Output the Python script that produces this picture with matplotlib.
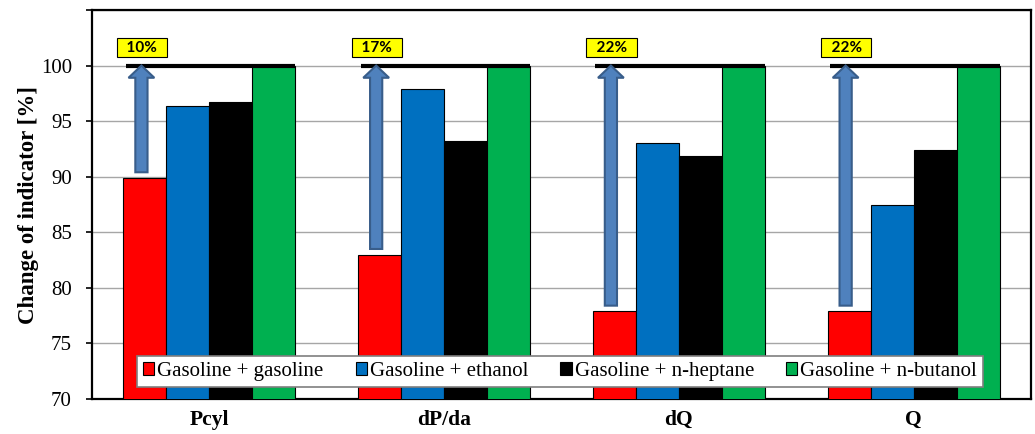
import matplotlib
matplotlib.use('Agg')
import matplotlib.pyplot as plt
import matplotlib.patches as mpatches
import numpy as np

# Relative indicator values [%] for each fuel pair
indicators = ['Pcyl', 'dP/da', 'dQ', 'Q']
series_names = ['Gasoline + gasoline', 'Gasoline + ethanol',
                'Gasoline + n-heptane', 'Gasoline + n-butanol']
gasoline_gasoline = [89.9, 83.0, 77.9, 77.9]
gasoline_ethanol = [96.4, 97.9, 93.0, 87.5]
gasoline_heptane = [96.7, 93.2, 91.9, 92.4]
gasoline_butanol = [100.0, 100.0, 100.0, 100.0]
y_ticks = [70, 75, 80, 85, 90, 95, 100]

series = [gasoline_gasoline, gasoline_ethanol, gasoline_heptane, gasoline_butanol]
colors = ['#FF0000', '#0070C0', '#000000', '#00B050']

plt.rcParams['font.family'] = ['Liberation Serif', 'DejaVu Serif']

fig = plt.figure(figsize=(10.35, 4.34), dpi=100)
ax = fig.add_axes([0.0889, 0.0806, 0.9072, 0.8964])

x = np.arange(len(indicators))
bar_w = 0.183
offsets = (np.arange(4) - 1.5) * bar_w

for vals, off, col, name in zip(series, offsets, colors, series_names):
    ax.bar(x + off, vals, width=bar_w, color=col, edgecolor='black',
           linewidth=0.8, label=name, zorder=3)

# Reference line at 100 % and arrows showing the reduction of the base fuel
for i, base in enumerate(gasoline_gasoline):
    left = x[i] + offsets[0] - bar_w / 2
    right = x[i] + offsets[-1] + bar_w / 2
    ax.hlines(100, left + 0.01, right, colors='black', linewidth=3, zorder=4)

    ax_x = x[i] + offsets[0] - 0.015
    start = base + 0.5
    arrow = mpatches.FancyArrow(ax_x, start, 0, 100 - start, width=0.052,
                                head_width=0.11, head_length=1.1,
                                length_includes_head=True,
                                facecolor='#4F81BD', edgecolor='#385D8A',
                                linewidth=1.5, zorder=5)
    ax.add_patch(arrow)

    drop = round(100 - base)
    ax.text(ax_x + 0.003, 101.6, f'  {drop}%  ', ha='center', va='center',
            fontsize=11, fontweight='bold', family=['Lato', 'DejaVu Sans'],
            bbox=dict(boxstyle='square,pad=0.15', facecolor='#FFFF00',
                      edgecolor='black', linewidth=0.8), zorder=6)

ax.set_xlim(-0.5, 3.5)
ax.set_ylim(70, 105)
ax.set_yticks(y_ticks + [105])
ax.set_yticklabels([str(t) for t in y_ticks] + [''])
ax.set_xticks(x)
ax.set_xticklabels(indicators, fontsize=15.5, fontweight='bold')
ax.tick_params(axis='x', length=0, pad=8)
ax.tick_params(axis='y', direction='out', length=4.5, width=1.2, labelsize=15, pad=10)
ax.yaxis.grid(True, color='#A6A6A6', linewidth=1, zorder=0)
ax.set_axisbelow(True)
for s in ax.spines.values():
    s.set_linewidth(1.6)
    s.set_color('black')

ax.set_ylabel('Change of indicator [%]', fontsize=16.5, fontweight='bold', labelpad=1)

leg = ax.legend(loc='center', ncol=4, bbox_to_anchor=(0.4985, 0.0707),
                fontsize=15, frameon=True, fancybox=False, framealpha=1,
                edgecolor='#7F7F7F', handlelength=0.53, handleheight=0.53,
                handletextpad=0.15, columnspacing=1.55, borderpad=0.3,
                borderaxespad=0)
leg.get_frame().set_linewidth(1.2)
leg.set_zorder(7)

fig.savefig('out.png', dpi=100)
